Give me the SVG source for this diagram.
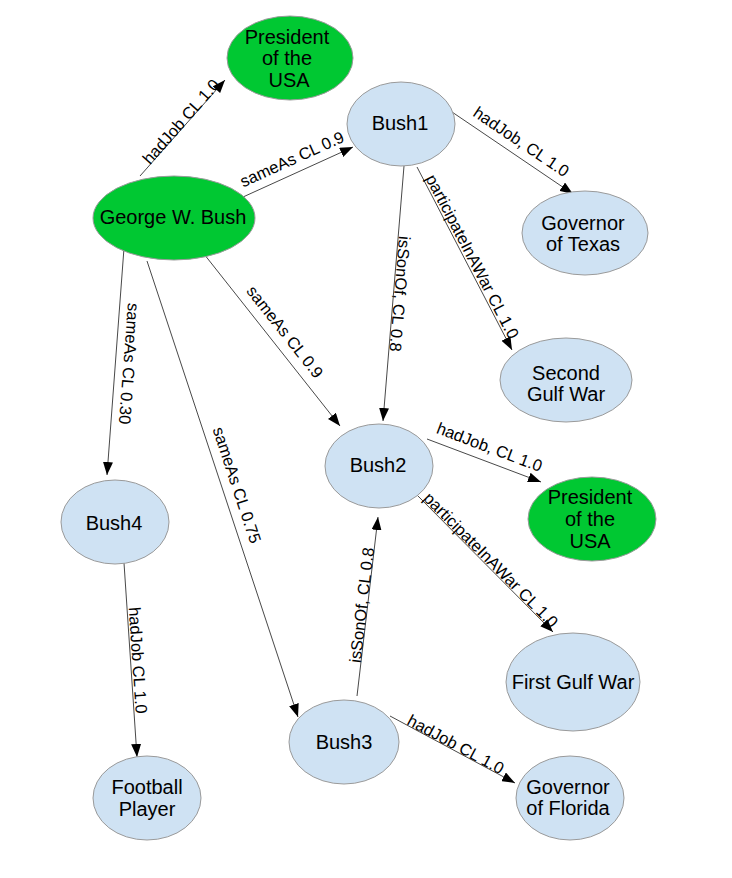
<svg xmlns="http://www.w3.org/2000/svg" width="732" height="878" viewBox="0 0 732 878">
  <defs>
    <marker id="arrow" markerUnits="userSpaceOnUse" markerWidth="13" markerHeight="10" refX="13" refY="5" orient="auto">
      <path d="M0,0 L13,5 L0,10 Z" fill="#000"/>
    </marker>
    <style>
      .blue ellipse { fill: #cfe2f3; stroke: #9a9a9a; stroke-width: 1; }
      .green ellipse { fill: #00c832; stroke: #9a9a9a; stroke-width: 1; }
      .node text { font-family: "Liberation Sans", Arial, sans-serif; font-size: 20px; fill: #000; text-anchor: middle; }
      #edges line { stroke: #333; stroke-width: 0.9; marker-end: url(#arrow); }
      #edges text { font-family: "Liberation Sans", Arial, sans-serif; font-size: 16.5px; fill: #000; text-anchor: middle; }
    </style>
  </defs>
  <rect width="732" height="878" fill="#fff"/>

  <!-- connectors -->
  <g id="edges">
    <line x1="140" y1="176" x2="225" y2="80"/>
    <text transform="translate(181,121.5) rotate(-48.5)" dy="0.35em">hadJob CL 1.0</text>

    <line x1="243" y1="197" x2="353" y2="147"/>
    <text transform="translate(292,159) rotate(-24.4)" dy="0.35em">sameAs CL 0.9</text>

    <line x1="452" y1="112" x2="573" y2="194"/>
    <text transform="translate(521.3,141.7) rotate(34)" dy="0.35em">hadJob, CL 1.0</text>

    <line x1="404" y1="166" x2="383" y2="421"/>
    <text transform="translate(400,294) rotate(94.8)" dy="0.35em">isSonOf, CL 0.8</text>

    <line x1="417" y1="167" x2="512" y2="350"/>
    <text transform="translate(472.5,256.5) rotate(62.6)" dy="0.35em">participateInAWar CL 1.0</text>

    <line x1="204" y1="254" x2="340" y2="426"/>
    <text transform="translate(285,331.7) rotate(51.8)" dy="0.35em">sameAs CL 0.9</text>

    <line x1="124" y1="248" x2="107" y2="475"/>
    <text transform="translate(129.2,363.8) rotate(94.3)" dy="0.35em">sameAs CL 0.30</text>

    <line x1="147" y1="261" x2="298" y2="717"/>
    <text transform="translate(237,485) rotate(71.7)" dy="0.35em">sameAs CL 0.75</text>

    <line x1="124" y1="563" x2="137" y2="757"/>
    <text transform="translate(138,660.3) rotate(86.2)" dy="0.35em">hadJob CL 1.0</text>

    <line x1="357" y1="696" x2="378" y2="517"/>
    <text transform="translate(361.7,605) rotate(-83.3)" dy="0.35em">isSonOf, CL 0.8</text>

    <line x1="427" y1="439" x2="541" y2="482"/>
    <text transform="translate(489.5,447) rotate(20.7)" dy="0.35em">hadJob, CL 1.0</text>

    <line x1="417" y1="495" x2="553" y2="632"/>
    <text transform="translate(491,560) rotate(45.2)" dy="0.35em">participateInAWar CL 1.0</text>

    <line x1="390" y1="716" x2="515" y2="783"/>
    <text transform="translate(455.8,744.2) rotate(28.2)" dy="0.35em">hadJob CL 1.0</text>
  </g>

  <!-- nodes -->
  <g id="president-top" class="node green">
    <ellipse cx="290" cy="58" rx="63" ry="42"/>
    <text x="287" y="36.7" dy="0.35em">President</text>
    <text x="287" y="58.3" dy="0.35em">of the</text>
    <text x="289" y="80" dy="0.35em">USA</text>
  </g>

  <g id="george-w-bush" class="node green">
    <ellipse cx="174" cy="218" rx="81" ry="42"/>
    <text x="173" y="217.3" dy="0.35em">George W. Bush</text>
  </g>

  <g id="bush1" class="node blue">
    <ellipse cx="401" cy="124" rx="54" ry="42"/>
    <text x="400" y="123.3" dy="0.35em">Bush1</text>
  </g>

  <g id="governor-texas" class="node blue">
    <ellipse cx="585" cy="233" rx="63" ry="42"/>
    <text x="583" y="223.3" dy="0.35em">Governor</text>
    <text x="583" y="244.3" dy="0.35em">of Texas</text>
  </g>

  <g id="second-gulf-war" class="node blue">
    <ellipse cx="566" cy="380" rx="66" ry="42"/>
    <text x="566" y="372.7" dy="0.35em">Second</text>
    <text x="566" y="394.3" dy="0.35em">Gulf War</text>
  </g>

  <g id="bush2" class="node blue">
    <ellipse cx="379" cy="466" rx="54" ry="42"/>
    <text x="378" y="465" dy="0.35em">Bush2</text>
  </g>

  <g id="president-bush2" class="node green">
    <ellipse cx="592" cy="519" rx="64" ry="42"/>
    <text x="590" y="496.7" dy="0.35em">President</text>
    <text x="590" y="519" dy="0.35em">of the</text>
    <text x="590" y="540.7" dy="0.35em">USA</text>
  </g>

  <g id="bush4" class="node blue">
    <ellipse cx="115" cy="522" rx="54" ry="42"/>
    <text x="114" y="522.7" dy="0.35em">Bush4</text>
  </g>

  <g id="first-gulf-war" class="node blue">
    <ellipse cx="573" cy="682" rx="67" ry="49"/>
    <text x="573" y="681.7" dy="0.35em">First Gulf War</text>
  </g>

  <g id="bush3" class="node blue">
    <ellipse cx="344" cy="742" rx="55" ry="42"/>
    <text x="344" y="741.7" dy="0.35em">Bush3</text>
  </g>

  <g id="governor-florida" class="node blue">
    <ellipse cx="570" cy="798" rx="54" ry="42"/>
    <text x="568" y="786.7" dy="0.35em">Governor</text>
    <text x="568" y="808.3" dy="0.35em">of Florida</text>
  </g>

  <g id="football-player" class="node blue">
    <ellipse cx="147" cy="798" rx="54" ry="42"/>
    <text x="147" y="787.3" dy="0.35em">Football</text>
    <text x="147" y="809.3" dy="0.35em">Player</text>
  </g>
</svg>
